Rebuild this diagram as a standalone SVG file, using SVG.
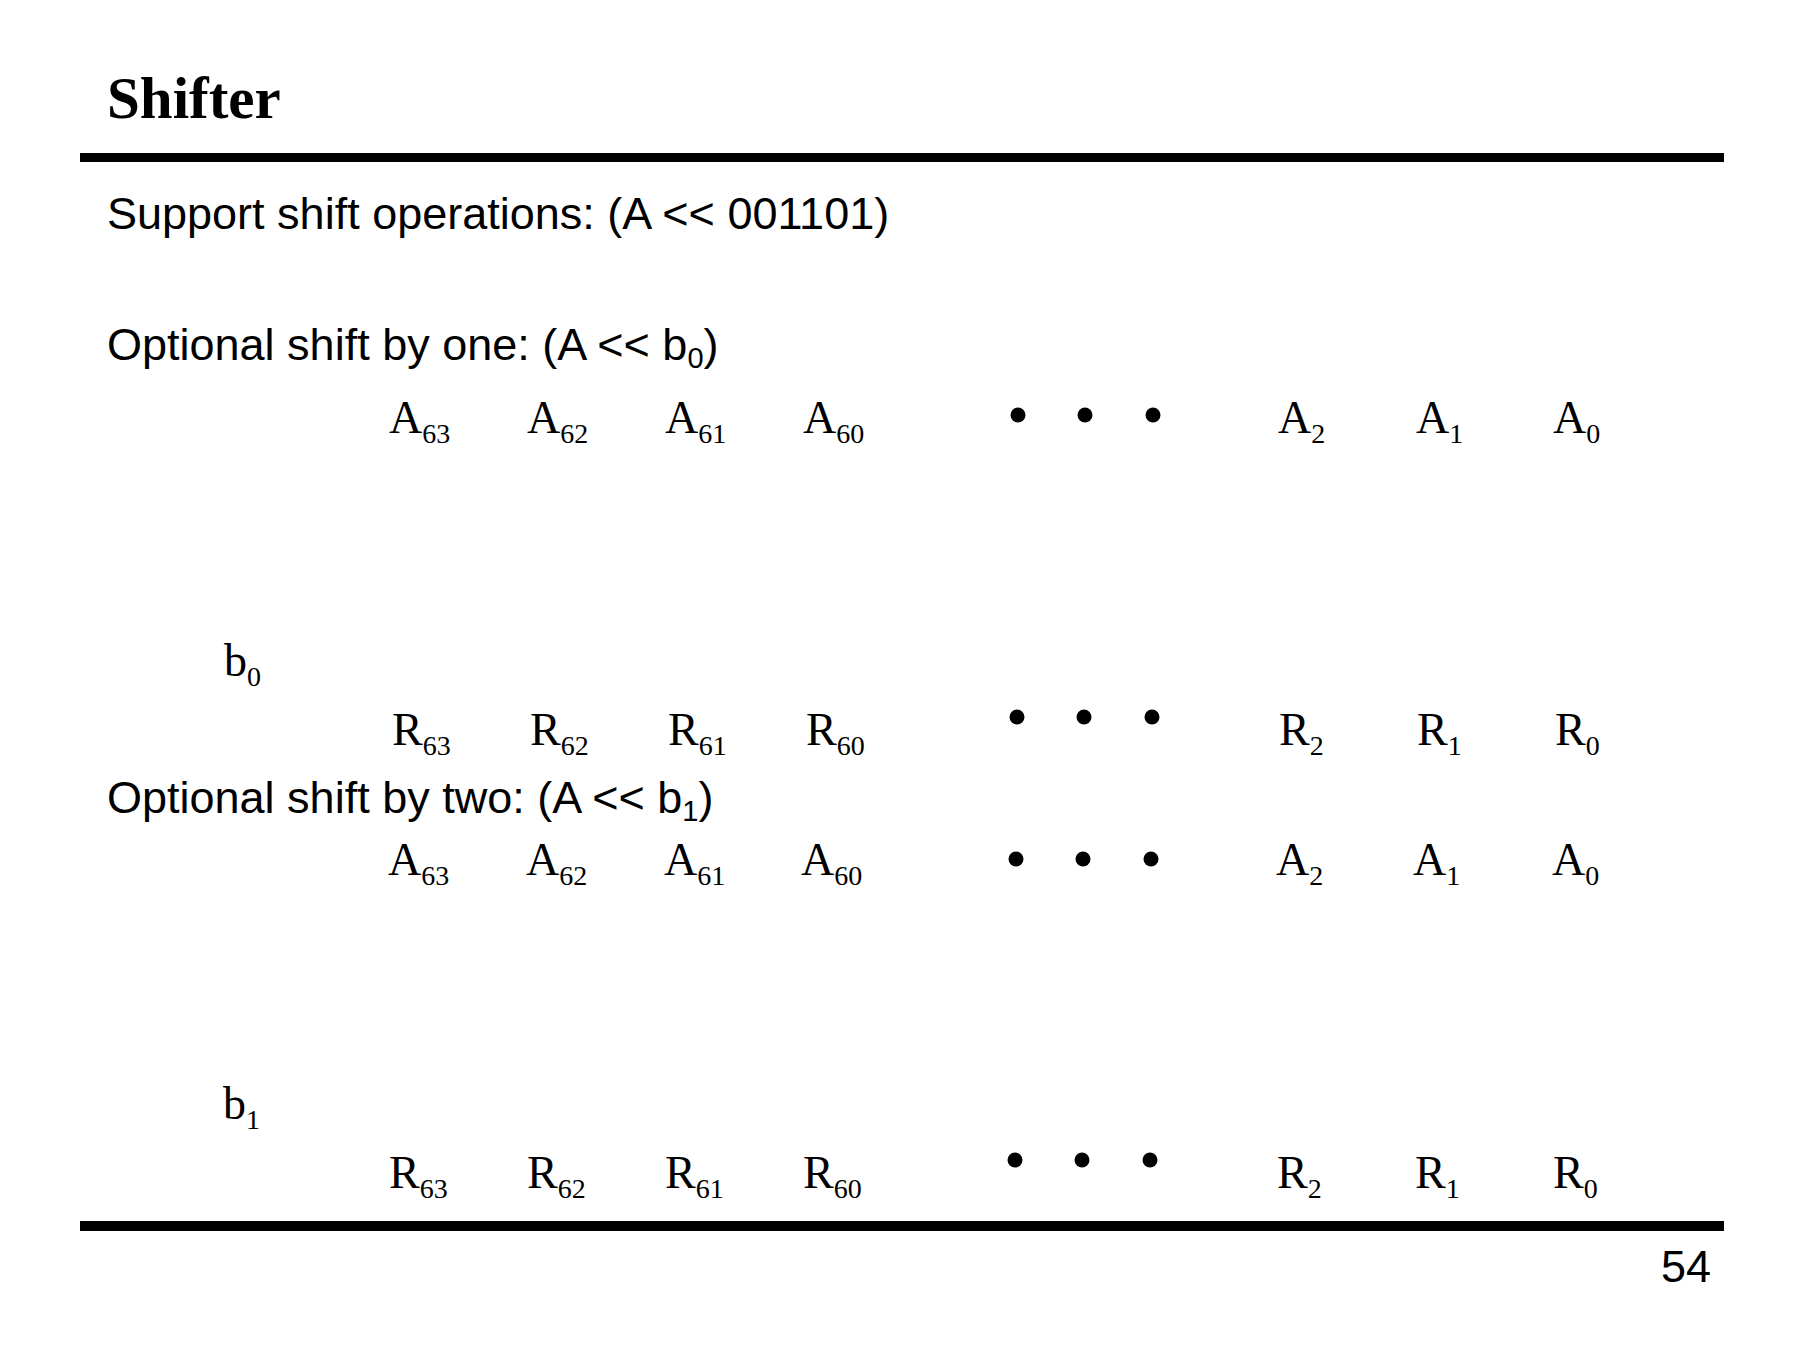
<svg xmlns="http://www.w3.org/2000/svg" width="1800" height="1350" viewBox="0 0 1800 1350">
<style>
.title{font-family:"Liberation Serif","Times New Roman",serif;font-weight:bold;font-size:59px;fill:#000}
.body{font-family:"Liberation Sans",Arial,sans-serif;font-size:45px;fill:#000}
.sig{font-family:"Liberation Serif","Times New Roman",serif;font-size:46px;fill:#000}
.sub{font-size:28px}
.bsub{font-size:29px}
.rule{fill:#000}
.dot{fill:#000}
</style>
<rect width="1800" height="1350" fill="#fff"/>
<g id="header">
<text class="title" x="107" y="118">Shifter</text>
<rect class="rule" x="80" y="153" width="1644" height="9"/>
</g>
<g id="text-lines">
<text class="body" x="107" y="229">Support shift operations: (A &lt;&lt; 001101)</text>
<text class="body" x="107" y="360">Optional shift by one: (A &lt;&lt; b<tspan class="bsub" dy="8">0</tspan><tspan dy="-8">)</tspan></text>
<text class="body" x="107" y="813">Optional shift by two: (A &lt;&lt; b<tspan class="bsub" dy="8">1</tspan><tspan dy="-8">)</tspan></text>
</g>
<g id="stage1-inputs">
<text class="sig" x="389" y="433">A<tspan class="sub" dy="10">63</tspan></text>
<text class="sig" x="527" y="433">A<tspan class="sub" dy="10">62</tspan></text>
<text class="sig" x="665" y="433">A<tspan class="sub" dy="10">61</tspan></text>
<text class="sig" x="803" y="433">A<tspan class="sub" dy="10">60</tspan></text>
<circle class="dot" cx="1018" cy="415" r="7.5"/>
<circle class="dot" cx="1085" cy="415" r="7.5"/>
<circle class="dot" cx="1153" cy="415" r="7.5"/>
<text class="sig" x="1278" y="433">A<tspan class="sub" dy="10">2</tspan></text>
<text class="sig" x="1416" y="433">A<tspan class="sub" dy="10">1</tspan></text>
<text class="sig" x="1553" y="433">A<tspan class="sub" dy="10">0</tspan></text>
</g>
<g id="stage1-control">
<text class="sig" x="224" y="676">b<tspan class="sub" dy="10">0</tspan></text>
</g>
<g id="stage1-outputs">
<text class="sig" x="392" y="745">R<tspan class="sub" dy="10">63</tspan></text>
<text class="sig" x="530" y="745">R<tspan class="sub" dy="10">62</tspan></text>
<text class="sig" x="668" y="745">R<tspan class="sub" dy="10">61</tspan></text>
<text class="sig" x="806" y="745">R<tspan class="sub" dy="10">60</tspan></text>
<circle class="dot" cx="1017" cy="717" r="7.5"/>
<circle class="dot" cx="1084" cy="717" r="7.5"/>
<circle class="dot" cx="1152" cy="717" r="7.5"/>
<text class="sig" x="1279" y="745">R<tspan class="sub" dy="10">2</tspan></text>
<text class="sig" x="1417" y="745">R<tspan class="sub" dy="10">1</tspan></text>
<text class="sig" x="1555" y="745">R<tspan class="sub" dy="10">0</tspan></text>
</g>
<g id="stage2-inputs">
<text class="sig" x="388" y="875">A<tspan class="sub" dy="10">63</tspan></text>
<text class="sig" x="526" y="875">A<tspan class="sub" dy="10">62</tspan></text>
<text class="sig" x="664" y="875">A<tspan class="sub" dy="10">61</tspan></text>
<text class="sig" x="801" y="875">A<tspan class="sub" dy="10">60</tspan></text>
<circle class="dot" cx="1016" cy="859" r="7.5"/>
<circle class="dot" cx="1083" cy="859" r="7.5"/>
<circle class="dot" cx="1151" cy="859" r="7.5"/>
<text class="sig" x="1276" y="875">A<tspan class="sub" dy="10">2</tspan></text>
<text class="sig" x="1413" y="875">A<tspan class="sub" dy="10">1</tspan></text>
<text class="sig" x="1552" y="875">A<tspan class="sub" dy="10">0</tspan></text>
</g>
<g id="stage2-control">
<text class="sig" x="223" y="1119">b<tspan class="sub" dy="10">1</tspan></text>
</g>
<g id="stage2-outputs">
<text class="sig" x="389" y="1188">R<tspan class="sub" dy="10">63</tspan></text>
<text class="sig" x="527" y="1188">R<tspan class="sub" dy="10">62</tspan></text>
<text class="sig" x="665" y="1188">R<tspan class="sub" dy="10">61</tspan></text>
<text class="sig" x="803" y="1188">R<tspan class="sub" dy="10">60</tspan></text>
<circle class="dot" cx="1015" cy="1160" r="7.5"/>
<circle class="dot" cx="1082" cy="1160" r="7.5"/>
<circle class="dot" cx="1150" cy="1160" r="7.5"/>
<text class="sig" x="1277" y="1188">R<tspan class="sub" dy="10">2</tspan></text>
<text class="sig" x="1415" y="1188">R<tspan class="sub" dy="10">1</tspan></text>
<text class="sig" x="1553" y="1188">R<tspan class="sub" dy="10">0</tspan></text>
</g>
<g id="connectors"></g>
<g id="footer">
<rect class="rule" x="80" y="1221" width="1644" height="10"/>
<text class="body" x="1711" y="1282" text-anchor="end">54</text>
</g>
</svg>
